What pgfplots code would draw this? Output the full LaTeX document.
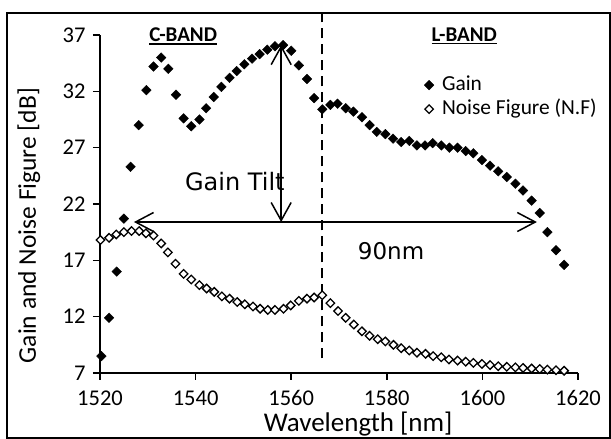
\documentclass[border=0pt]{standalone}
\usepackage{fontspec}
\setmainfont{Carlito}
\newfontfamily\dejavu{DejaVu Sans}
\usepackage{pgfplots}
\pgfplotsset{compat=1.18}
\usetikzlibrary{arrows.meta}
\newcommand\ul[1]{\setbox0\hbox{#1}\rlap{\rule[-3pt]{\wd0}{1.6pt}}\box0}

\begin{document}
\begin{tikzpicture}
\begin{axis}[
 at={(0,0)}, anchor=south west,
 scale only axis, width=478pt, height=338pt,
 xmin=1520, xmax=1620, ymin=7, ymax=37,
 xtick={1520,1540,...,1620}, ytick={7,12,...,37},
 axis lines=left, axis line style={-, line width=1.5pt},
 tick align=outside, major tick length=7pt,
 every tick/.style={black, line width=1.5pt},
 tick label style={font=\fontsize{22.5}{24}\selectfont},
 xticklabel style={yshift=-7pt},
 yticklabel style={xshift=-4pt},
 /pgf/number format/assume math mode=true,
 /pgf/number format/1000 sep={},
 xlabel={Wavelength [nm]}, ylabel={Gain and Noise Figure [dB]},
 every axis x label/.style={at={(axis description cs:0.54,-0.152)}, anchor=center, font=\fontsize{27}{28}\selectfont},
 every axis y label/.style={at={(axis description cs:-0.149,0.436)}, anchor=center, rotate=90, font=\fontsize{25.5}{27}\selectfont},
 clip=false,
 legend style={draw=none, fill=none, at={(axis description cs:0.678,0.879)}, anchor=north west,
   inner sep=0pt, font=\fontsize{21.4}{23}\selectfont, row sep=6pt,
   cells={anchor=west}, nodes={inner sep=0pt, text height=14pt, text depth=4pt}},
 legend image code/.code={\path[draw=none, fill=none] (0pt,0pt) -- (13pt,0pt); \draw[#1] plot coordinates {(0pt,0pt)};},
]
\addplot[only marks, mark=square*, mark size=3.4pt, mark options={rotate=45, fill=black, draw=black}] coordinates {
(1520.3,8.5) (1521.9,11.9) (1523.5,16.0) (1525.0,20.7) (1526.4,25.3) (1528.1,29.0)
(1529.7,32.1) (1531.2,34.2) (1532.8,35.0) (1534.3,34.0) (1535.9,31.7) (1537.5,29.6)
(1539.1,28.9) (1540.8,29.5) (1542.2,30.5) (1543.8,31.5) (1545.4,32.4) (1547.1,33.2)
(1548.6,33.8) (1550.2,34.4) (1551.8,34.9) (1553.4,35.3) (1555.0,35.7) (1556.6,36.0)
(1558.3,36.1) (1560.0,35.6) (1561.6,34.3) (1563.3,33.1) (1564.8,31.4) (1566.5,30.4)
(1568.2,30.8) (1569.7,30.9) (1571.4,30.5) (1573.0,30.2) (1574.8,29.7) (1576.4,29.0)
(1577.9,28.4) (1579.7,28.2) (1581.3,27.8) (1583.0,27.5) (1584.7,27.6) (1586.3,27.2)
(1588.0,27.2) (1589.6,27.4) (1591.4,27.2) (1593.1,27.0) (1594.8,27.0) (1596.5,26.7)
(1598.1,26.5) (1599.9,25.9) (1601.6,25.4) (1603.3,24.9) (1605.1,24.4) (1606.9,23.8)
(1608.5,23.2) (1610.3,22.3) (1612.0,21.2) (1613.6,19.5) (1615.4,17.9) (1617.1,16.6)
};
\addlegendentry{Gain}
\addplot[only marks, mark=square*, mark size=3.0pt, mark options={rotate=45, fill=white, draw=black, line width=1.3pt}] coordinates {
(1520.1,18.8) (1521.9,19.0) (1523.4,19.3) (1525.0,19.5) (1526.6,19.6) (1528.2,19.6)
(1529.6,19.4) (1531.2,19.2) (1532.8,18.5) (1534.2,17.7) (1535.8,16.7) (1537.5,15.8)
(1539.1,15.3) (1540.8,14.8) (1542.3,14.5) (1543.9,14.2) (1545.5,13.8) (1547.1,13.6)
(1548.7,13.3) (1550.3,13.1) (1552.0,12.9) (1553.5,12.7) (1555.1,12.6) (1556.6,12.6)
(1558.4,12.7) (1559.9,13.0) (1561.6,13.4) (1563.3,13.6) (1564.8,13.7) (1566.5,13.9)
(1568.2,13.2) (1569.8,12.5) (1571.4,11.9) (1573.1,11.3) (1574.8,10.7) (1576.4,10.3)
(1578.1,10.0) (1579.7,9.8) (1581.4,9.5) (1583.0,9.2) (1584.7,9.0) (1586.3,8.8)
(1588.1,8.7) (1589.7,8.5) (1591.4,8.4) (1593.0,8.2) (1594.8,8.1) (1596.5,8.0)
(1598.1,7.9) (1599.9,7.8) (1601.6,7.7) (1603.3,7.6) (1605.1,7.55) (1606.9,7.5)
(1608.5,7.45) (1610.3,7.4) (1612.0,7.35) (1613.6,7.3) (1615.4,7.25) (1617.1,7.2)
};
\addlegendentry{Noise Figure (N.F)}
% dashed band boundary
\draw[line width=1.6pt, dash pattern=on 10pt off 6pt] (axis cs:1566.4,8.3) -- (axis cs:1566.4,38.95);
% arrows
\draw[line width=1.5pt, {Straight Barb[length=18pt,width=20pt]}-{Straight Barb[length=18pt,width=20pt]}]
  (axis cs:1557.9,36.1) -- (axis cs:1557.9,20.4);
\draw[line width=1.5pt, {Straight Barb[length=18pt,width=19pt]}-{Straight Barb[length=18pt,width=19pt]}]
  (axis cs:1527.1,20.4) -- (axis cs:1611.4,20.4);
\node[font=\dejavu\fontsize{24}{26}\selectfont] at (axis cs:1548.2,24.0) {Gain Tilt};
\node[font=\dejavu\fontsize{23}{26}\selectfont] at (axis cs:1580.9,17.8) {90nm};
\node[font=\bfseries\fontsize{21}{22}\selectfont] at (axis cs:1537.4,36.9) {\ul{C-BAND}};
\node[font=\bfseries\fontsize{21}{22}\selectfont] at (axis cs:1596.2,36.9) {\ul{L-BAND}};
\end{axis}
\draw[line width=1.4pt] (-93pt,-65pt) rectangle (510pt,360pt);
\pgfresetboundingbox
\path[use as bounding box] (-100pt,-66pt) rectangle (511pt,373pt);
\end{tikzpicture}
\end{document}
